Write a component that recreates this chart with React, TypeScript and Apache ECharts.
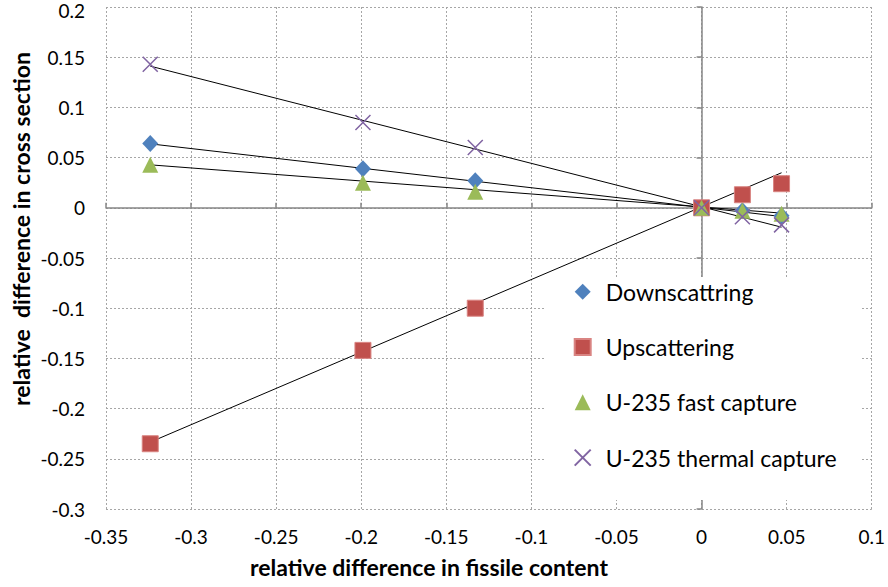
import React, { useEffect, useRef } from "react";
import * as echarts from "echarts";

const xValues = [-0.324, -0.199, -0.133, 0, 0.024, 0.047];
const downscattering = [0.064, 0.039, 0.027, 0, -0.003, -0.008];
const upscattering = [-0.235, -0.142, -0.1, 0, 0.013, 0.024];
const fastCapture = [0.043, 0.025, 0.016, 0, -0.003, -0.006];
const thermalCapture = [0.143, 0.085, 0.06, 0, -0.009, -0.017];

const trendX = [-0.324, 0.047];
const downTrend = [0.0637, -0.0087];
const upTrend = [-0.2334, 0.0349];
const fastTrend = [0.0428, -0.0053];
const thermalTrend = [0.1411, -0.0193];

const seriesNames = [
  "Downscattring",
  "Upscattering",
  "U-235 fast capture",
  "U-235 thermal capture",
];

const FONT = "Lato, 'Open Sans', sans-serif";

const pairs = (xs: number[], ys: number[]) => xs.map((x, i) => [x, ys[i]]);

export default function App() {
  const ref = useRef<HTMLDivElement>(null);
  useEffect(() => {
    if (!ref.current) return;
    const chart = echarts.init(ref.current, undefined, { renderer: "svg" });
    const grid = { left: 106, right: 16, top: 7, bottom: 78 };
    const split = { show: true, lineStyle: { color: "#a6a6a6", type: [2, 2] as any, width: 1 } };
    const trend = (data: number[][]) => ({
      type: "line",
      data,
      symbol: "none",
      silent: true,
      z: 3,
      lineStyle: { color: "#000", width: 1 },
      xAxisIndex: 0,
      yAxisIndex: 0,
    });
    chart.setOption({
      animation: false,
      backgroundColor: "#fff",
      grid,
      xAxis: [
        {
          type: "value",
          min: -0.35,
          max: 0.1,
          interval: 0.05,
          position: "bottom",
          axisLine: { show: false, onZero: false },
          axisTick: { show: false },
          axisLabel: { fontSize: 19, margin: 18, color: "#000", fontFamily: FONT },
          splitLine: split,
        },
        {
          type: "value",
          min: -0.35,
          max: 0.1,
          interval: 0.05,
          axisLine: { show: true, onZero: true, lineStyle: { color: "#868686", width: 1.5 } },
          axisTick: { show: true, length: 5, lineStyle: { color: "#868686", width: 1.5 } },
          axisLabel: { show: false },
          splitLine: { show: false },
        },
      ],
      yAxis: [
        {
          type: "value",
          min: -0.3,
          max: 0.2,
          interval: 0.05,
          position: "left",
          axisLine: { show: false, onZero: false },
          axisTick: { show: false },
          axisLabel: {
            fontSize: 19,
            margin: 21,
            color: "#000",
            fontFamily: FONT,
            formatter: (v: number) => (Math.abs(v - 0.2) < 1e-9 ? "{t|" + v + "}" : String(v)),
            rich: { t: { fontSize: 19, fontFamily: FONT, color: "#000", padding: [7, 0, 0, 0] } },
          },
          splitLine: split,
        },
        {
          type: "value",
          min: -0.3,
          max: 0.2,
          interval: 0.05,
          position: "left",
          axisLine: { show: true, onZero: true, lineStyle: { color: "#868686", width: 1.5 } },
          axisTick: { show: true, length: 5, lineStyle: { color: "#868686", width: 1.5 } },
          axisLabel: { show: false },
          splitLine: { show: false },
        },
      ],
      legend: {
        data: seriesNames,
        orient: "vertical",
        left: 573.7,
        top: 279.7,
        padding: 0,
        itemWidth: 16,
        itemHeight: 16,
        itemGap: 31.3,
        z: 10,
        textStyle: { fontSize: 23, lineHeight: 24, color: "#000", fontFamily: FONT, padding: [0, 0, 0, 10] },
      },
      graphic: [
        {
          type: "rect",
          z: 1,
          shape: { x: 545, y: 277, width: 317, height: 223 },
          style: { fill: "#fff" },
          silent: true,
        },
        {
          type: "text",
          x: 429,
          y: 567,
          style: {
            text: "relative difference in fissile content",
            font: `bold 23px ${FONT}`,
            fill: "#000",
            align: "center",
            verticalAlign: "middle",
          },
        },
        {
          type: "text",
          x: 21,
          y: 229,
          rotation: Math.PI / 2,
          style: {
            text: "relative  difference in cross section",
            font: `bold 23px ${FONT}`,
            fill: "#000",
            align: "center",
            verticalAlign: "middle",
          },
        },
      ],
      series: [
        trend(pairs(trendX, downTrend)),
        trend(pairs(trendX, upTrend)),
        trend(pairs(trendX, fastTrend)),
        trend(pairs(trendX, thermalTrend)),
        {
          name: seriesNames[0],
          type: "scatter",
          data: pairs(xValues, downscattering),
          symbol: "diamond",
          symbolSize: [16, 17],
          itemStyle: { color: "#4f81bd", opacity: 1 },
          z: 4,
        },
        {
          name: seriesNames[1],
          type: "scatter",
          data: pairs(xValues, upscattering),
          symbol: "rect",
          symbolSize: 16,
          itemStyle: { color: "#c0504d", borderColor: "#d98482", borderWidth: 1, opacity: 1 },
          z: 4,
        },
        {
          name: seriesNames[2],
          type: "scatter",
          data: pairs(xValues, fastCapture),
          symbol: "triangle",
          symbolSize: 16,
          itemStyle: { color: "#9bbb59", opacity: 1 },
          z: 4,
        },
        {
          name: seriesNames[3],
          type: "scatter",
          data: pairs(xValues, thermalCapture),
          symbol: "path://M0,0L10,10M10,0L0,10",
          symbolSize: 15,
          itemStyle: { color: "#8064a2", borderColor: "#8064a2", borderWidth: 1.5, opacity: 1 },
          z: 4,
        },
      ],
    });
    return () => chart.dispose();
  }, []);
  return <div ref={ref} style={{ width: 888, height: 587, position: "absolute", left: 0, top: 0 }} />;
}
